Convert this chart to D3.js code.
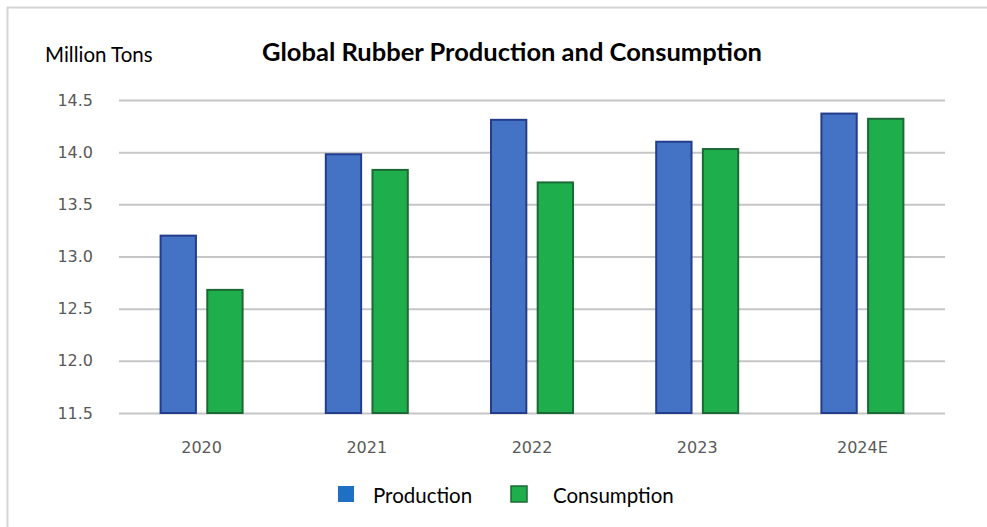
<!DOCTYPE html>
<html>
<head>
<meta charset="utf-8">
<script src="https://cdn.jsdelivr.net/npm/d3@7/dist/d3.min.js"></script>
<style>
  html, body { margin: 0; padding: 0; background: #fff; }
  svg { display: block; }
</style>
</head>
<body>
<script>
// Global rubber production and consumption, million tons
const years = ["2020", "2021", "2022", "2023", "2024E"];
const production = [13.2, 13.98, 14.31, 14.1, 14.37];
const consumption = [12.68, 13.83, 13.71, 14.03, 14.32];
const yTicks = [11.5, 12.0, 12.5, 13.0, 13.5, 14.0, 14.5];
const seriesNames = ["Production", "Consumption"];

const W = 987, H = 527;
const plot = { left: 119, right: 945, top: 100, bottom: 413 };

const svg = d3.select("body").append("svg")
  .attr("width", W).attr("height", H);

// frame lines (top and left)
svg.append("line").attr("x1", 7).attr("x2", W).attr("y1", 7.5).attr("y2", 7.5)
  .attr("stroke", "#d4d4d4").attr("stroke-width", 2);
svg.append("line").attr("x1", 7.5).attr("x2", 7.5).attr("y1", 7).attr("y2", H)
  .attr("stroke", "#d4d4d4").attr("stroke-width", 2);

const x0 = d3.scaleBand().domain(years).range([plot.left, plot.right]).paddingInner(0).paddingOuter(0);
const x1 = d3.scaleBand().domain(seriesNames).range([0, x0.bandwidth()]).paddingInner(0.2).paddingOuter(0.87);
const y = d3.scaleLinear().domain([11.5, 14.5]).range([plot.bottom, plot.top]);

const tickFont = "'DejaVu Sans', Verdana, sans-serif";

// value axis with gridlines
const yAxis = d3.axisLeft(y).tickValues(yTicks).tickFormat(d3.format(".1f"))
  .tickSize(-(plot.right - plot.left)).tickPadding(26);
const gy = svg.append("g").attr("transform", `translate(${plot.left},0)`).call(yAxis);
gy.select(".domain").remove();
gy.selectAll(".tick line").attr("stroke", "#c6c6c6").attr("stroke-width", 2);
gy.selectAll(".tick text")
  .attr("fill", "#595959")
  .style("font-family", tickFont)
  .style("font-size", "16px");

// category axis
const xAxis = d3.axisBottom(x0).tickSize(0).tickPadding(29);
const gx = svg.append("g").attr("transform", `translate(0,${plot.bottom})`).call(xAxis);
gx.select(".domain").remove();
gx.selectAll(".tick text")
  .attr("fill", "#595959")
  .style("font-family", tickFont)
  .style("font-size", "16px");

const colors = {
  Production: { fill: "#4472c4", stroke: "#243c8c" },
  Consumption: { fill: "#1fae4c", stroke: "#1b6a36" }
};
const data = years.map((yr, i) => ({ year: yr, Production: production[i], Consumption: consumption[i] }));

const groups = svg.append("g").selectAll("g").data(data).join("g")
  .attr("transform", d => `translate(${x0(d.year)},0)`);
groups.selectAll("rect")
  .data(d => seriesNames.map(k => ({ key: k, value: d[k] })))
  .join("rect")
  .attr("x", d => x1(d.key) + 1)
  .attr("width", x1.bandwidth() - 2)
  .attr("y", d => y(d.value))
  .attr("height", d => y(11.5) - y(d.value))
  .attr("fill", d => colors[d.key].fill)
  .attr("stroke", d => colors[d.key].stroke)
  .attr("stroke-width", 2);

// title and unit
const textFont = "Lato, 'Open Sans', sans-serif";
svg.append("text")
  .attr("x", 512).attr("y", 61)
  .attr("text-anchor", "middle")
  .style("font-family", textFont)
  .style("font-weight", "bold")
  .style("font-size", "25.5px")
  .attr("fill", "#000")
  .text("Global Rubber Production and Consumption");

svg.append("text")
  .attr("x", 45).attr("y", 62)
  .style("font-family", textFont)
  .style("font-size", "20.5px")
  .attr("fill", "#000")
  .text("Million Tons");

// legend
const legendItems = [
  { key: "Production", sx: 338, tx: 373, fill: "#1f6fc5", stroke: "none" },
  { key: "Consumption", sx: 511, tx: 553, fill: colors.Consumption.fill, stroke: colors.Consumption.stroke }
];
const lg = svg.append("g");
legendItems.forEach(it => {
  lg.append("rect")
    .attr("x", it.sx).attr("y", 486).attr("width", 16).attr("height", 16)
    .attr("fill", it.fill)
    .attr("stroke", it.stroke).attr("stroke-width", it.stroke === "none" ? 0 : 1.5);
  lg.append("text")
    .attr("x", it.tx).attr("y", 503)
    .style("font-family", textFont)
    .style("font-size", "20.5px")
    .attr("fill", "#000")
    .text(it.key);
});
</script>
</body>
</html>
